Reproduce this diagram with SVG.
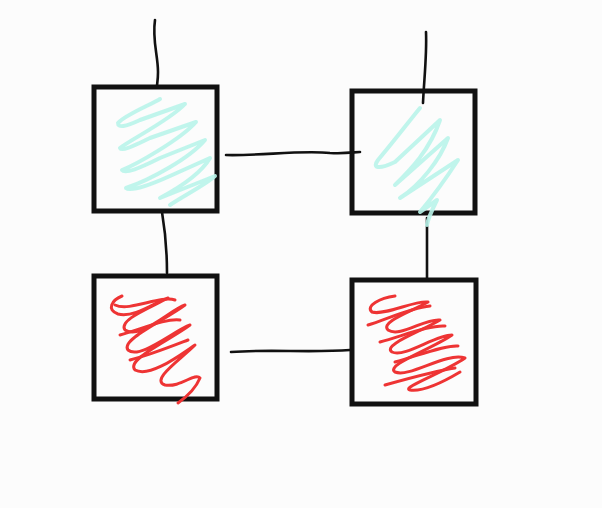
<svg xmlns="http://www.w3.org/2000/svg" width="602" height="508" viewBox="0 0 602 508">
<style>
.box{fill:none;stroke:#111;stroke-width:5;}
.wire{fill:none;stroke:#111;stroke-width:2.6;stroke-linecap:round;stroke-linejoin:round;}
.cyan{fill:none;stroke:#b9f4ea;stroke-width:4;stroke-linecap:round;stroke-linejoin:round;opacity:0.9;}
.red{fill:none;stroke:#ee3434;stroke-width:3;stroke-linecap:round;stroke-linejoin:round;}
</style>
<rect x="0" y="0" width="602" height="508" fill="#fcfcfc"/>
<g id="connectors">
<path class="wire" d="M155,20 C152,40 158,55 158,72 C158,80 157,84 157,86"/>
<path class="wire" d="M426,32 C427,55 424,80 423,103"/>
<path class="wire" d="M226,155 C260,156 300,150 330,153 C345,154 355,152 360,152"/>
<path class="wire" d="M162,212 C165,230 167,250 167,273"/>
<path class="wire" d="M427,218 C427,240 427,260 427,278"/>
<path class="wire" d="M231,352 C270,349 310,353 350,350"/>
</g>
<g id="node-top-left">
<rect class="box" x="94" y="87" width="123" height="124"/>
<path class="cyan" d="M160,99 C150,105 125,115 118,123 C118,128 125,127 140,120 L185,104 C170,120 130,140 120,148 C122,152 135,145 150,138 L196,122 C180,140 135,165 122,170 C125,174 140,168 160,158 L205,140 C190,158 150,180 126,188 C130,192 150,185 170,176 L210,158 C200,175 175,190 160,198 L215,176 C205,185 185,195 170,205"/>
</g>
<g id="node-top-right">
<rect class="box" x="352" y="91" width="123" height="122"/>
<path class="cyan" d="M420,108 C410,120 395,140 378,160 C372,168 378,170 395,162 L440,120 C430,150 410,170 395,185 L448,138 C440,160 420,185 400,198 L458,160 C445,180 430,200 420,212 L437,200 C432,210 428,218 427,225"/>
</g>
<g id="node-bottom-left">
<rect class="box" x="94" y="276" width="123" height="123"/>
<path class="red" d="M122,296 C112,300 106,310 118,314 C135,318 155,302 168,298 C150,308 118,320 125,330 C140,340 170,310 185,305 C165,320 120,340 128,350 C140,360 175,330 190,325 C170,340 125,360 135,370 C150,378 180,355 195,345 C180,360 150,380 165,385 C180,388 195,372 200,378 C195,390 185,398 178,403"/>
<path class="red" d="M115,305 C130,312 160,295 175,300 M120,335 C140,330 165,318 180,320 M130,360 C150,355 175,345 188,340"/>
</g>
<g id="node-bottom-right">
<rect class="box" x="352" y="280" width="124" height="124"/>
<path class="red" stroke-width="5" d="M395,296 C380,298 365,306 372,312 C385,316 415,300 428,302 C410,312 380,322 388,330 C400,338 425,318 440,320 C420,332 382,345 392,352 C405,358 435,335 452,335 C430,350 385,365 395,372 C410,378 445,352 465,358 C445,372 400,388 410,390 C425,392 450,378 460,372"/>
<path class="red" stroke-width="4" d="M368,325 C385,320 410,308 430,306 M380,342 C405,335 430,325 445,326 M395,362 C420,355 445,345 458,346 M385,385 C410,378 440,370 455,368"/>
</g>
</svg>
